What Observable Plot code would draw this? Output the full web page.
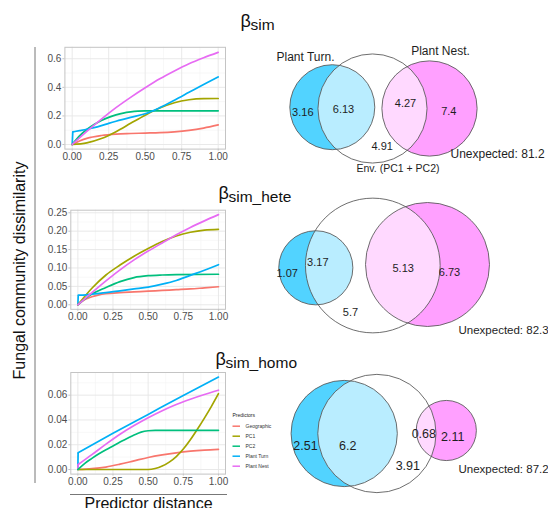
<!DOCTYPE html>
<html><head><meta charset="utf-8">
<script src="https://cdn.jsdelivr.net/npm/d3@7"></script>
<script src="https://cdn.jsdelivr.net/npm/@observablehq/plot@0.6"></script>
<style>
body{margin:0;background:#fff;}
#fig{position:relative;width:548px;height:508px;overflow:hidden;background:#fff;}
</style></head><body><div id="fig"></div>
<script>
// ---------- DATA ----------
const predictors = ["Geographic","PC1","PC2","Plant Turn","Plant Nest"];
const predictorColors = ["#F8766D","#A3A500","#00BF7D","#00B0F6","#E76BF3"];
const xTicks = [0, 0.25, 0.5, 0.75, 1];
const xMinor = [0.125, 0.375, 0.625, 0.875];

// beta_sim
const simGeo  = [[0,0],[0.05,0.025],[0.1,0.043],[0.2,0.063],[0.3,0.073],[0.4,0.077],[0.5,0.08],[0.6,0.083],[0.7,0.089],[0.8,0.099],[0.9,0.115],[1,0.137]];
const simPC1  = [[0,0],[0.1,0.012],[0.2,0.042],[0.3,0.09],[0.4,0.148],[0.5,0.205],[0.6,0.255],[0.7,0.292],[0.8,0.313],[0.9,0.321],[1,0.322]];
const simPC2  = [[0,0],[0.05,0.06],[0.1,0.105],[0.15,0.14],[0.2,0.168],[0.25,0.19],[0.3,0.207],[0.35,0.22],[0.4,0.228],[0.45,0.233],[0.5,0.235],[0.6,0.236],[1,0.236]];
const simTurn = [[0,0],[0.004,0.088],[0.05,0.097],[0.1,0.107],[0.15,0.118],[0.2,0.132],[0.25,0.148],[0.3,0.163],[0.4,0.19],[0.5,0.215],[0.6,0.258],[0.7,0.31],[0.8,0.365],[0.9,0.42],[1,0.473]];
const simNest = [[0,0],[0.1,0.092],[0.2,0.178],[0.3,0.258],[0.4,0.33],[0.5,0.397],[0.6,0.46],[0.7,0.515],[0.8,0.565],[0.9,0.607],[1,0.645]];
// beta_sim_hete
const heteGeo  = [[0,0],[0.05,0.014],[0.1,0.022],[0.15,0.027],[0.2,0.03],[0.3,0.033],[0.4,0.035],[0.5,0.037],[0.6,0.039],[0.7,0.041],[0.8,0.043],[0.9,0.046],[1,0.049]];
const hetePC1  = [[0,0],[0.1,0.045],[0.2,0.081],[0.3,0.108],[0.4,0.132],[0.5,0.153],[0.6,0.172],[0.7,0.187],[0.8,0.197],[0.9,0.203],[1,0.205]];
const hetePC2  = [[0,0],[0.05,0.016],[0.1,0.029],[0.2,0.047],[0.3,0.063],[0.4,0.074],[0.5,0.079],[0.6,0.081],[0.7,0.082],[1,0.083]];
const heteTurn = [[0,0],[0.003,0.026],[0.06,0.027],[0.1,0.029],[0.2,0.033],[0.3,0.038],[0.4,0.043],[0.5,0.048],[0.6,0.056],[0.7,0.066],[0.8,0.08],[0.9,0.094],[1,0.109]];
const heteNest = [[0,0],[0.1,0.033],[0.2,0.065],[0.3,0.095],[0.4,0.122],[0.5,0.146],[0.6,0.168],[0.7,0.19],[0.8,0.21],[0.9,0.228],[1,0.245]];
// beta_sim_homo
const homoGeo  = [[0,0],[0.1,0.0007],[0.2,0.002],[0.3,0.0043],[0.4,0.007],[0.5,0.0097],[0.6,0.0118],[0.7,0.0135],[0.8,0.0148],[0.9,0.0157],[1,0.0163]];
const homoPC1  = [[0,0],[0.25,0],[0.5,0],[0.55,0.0008],[0.6,0.0028],[0.65,0.006],[0.7,0.0105],[0.75,0.0165],[0.8,0.024],[0.85,0.0325],[0.9,0.0415],[0.95,0.051],[1,0.0612]];
const homoPC2  = [[0,0],[0.05,0.005],[0.1,0.009],[0.15,0.0127],[0.2,0.016],[0.25,0.019],[0.3,0.0222],[0.35,0.025],[0.4,0.0278],[0.45,0.0302],[0.5,0.0313],[0.55,0.0316],[1,0.0316]];
const homoTurn = [[0,0],[0.002,0.0135],[0.25,0.0292],[0.5,0.0445],[0.75,0.0598],[1,0.0746]];
const homoNest = [[0,0],[0.002,0.004],[0.1,0.012],[0.2,0.0205],[0.3,0.0285],[0.4,0.0355],[0.5,0.0418],[0.6,0.0475],[0.7,0.0525],[0.8,0.0567],[0.9,0.0605],[1,0.064]];

const simTicks  = [0, 0.2, 0.4, 0.6];
const heteTicks = [0, 0.05, 0.1, 0.15, 0.2, 0.25];
const homoTicks = [0, 0.02, 0.04, 0.06];

const titleSubs = ["sim", "sim_hete", "sim_homo"];
const vennSetNames = ["Plant Turn.", "Env. (PC1 + PC2)", "Plant Nest."];
// regions: Turn only, Turn∩Env, Env only, Env∩Nest, Nest only
const vennSim  = [3.16, 6.13, 4.91, 4.27, 7.4];
const vennHete = [1.07, 3.17, 5.7, 5.13, 6.73];
const vennHomo = [2.51, 6.2, 3.91, 0.68, 2.11];
const unexpected = [81.2, 82.3, 87.2];
const yTitle = "Fungal community dissimilarity";
const xTitle = "Predictor distance";
const legendTitle = "Predictors";

// ---------- LAYOUT ----------
const FONT = '"Liberation Sans", Arial, Helvetica, sans-serif';
const fig = document.getElementById("fig");
const baseStyle = {position:"absolute", left:"0px", background:"transparent", overflow:"visible", fontFamily: FONT};

function linePanel(series, cfg) {
  // a series whose first step is a near-vertical jump gets that step drawn straight
  const jumps = [], smooth = [];
  series.forEach((s, i) => {
    const p = predictors[i];
    let pts = s;
    if (s.length > 2 && s[1][0] - s[0][0] < 0.01) {
      jumps.push({p, x: s[0][0], y: s[0][1]}, {p, x: s[1][0], y: s[1][1]});
      pts = s.slice(1);
    }
    pts.forEach(([x, y]) => smooth.push({p, x, y}));
  });
  const minor = cfg.ticks.slice(0, -1).map((t, i) => (t + cfg.ticks[i + 1]) / 2).concat(cfg.extraMinor || []);
  return Plot.plot({
    width: 274, height: cfg.h,
    marginLeft: cfg.ml, marginRight: 49, marginTop: cfg.mt, marginBottom: cfg.mb,
    style: {...baseStyle, top: cfg.top + "px", fontSize: "10px"},
    x: {domain: [-0.05, 1.05]},
    y: {domain: cfg.yDomain},
    color: {domain: predictors, range: predictorColors},
    marks: [
      Plot.gridX(xMinor, {stroke: "#F3F3F3", strokeOpacity: 1, strokeWidth: 0.6}),
      Plot.gridY(minor, {stroke: "#F3F3F3", strokeOpacity: 1, strokeWidth: 0.6}),
      Plot.gridX(xTicks, {stroke: "#E6E6E6", strokeOpacity: 1, strokeWidth: 0.9}),
      Plot.gridY(cfg.ticks, {stroke: "#E6E6E6", strokeOpacity: 1, strokeWidth: 0.9}),
      Plot.line(jumps, {x: "x", y: "y", z: "p", stroke: "p", strokeWidth: 1.7, strokeLinecap: "butt"}),
      Plot.line(smooth, {x: "x", y: "y", z: "p", stroke: "p", strokeWidth: 1.7, curve: "monotone-x"}),
      Plot.frame({stroke: "#C4C4C4"}),
      Plot.axisX(xTicks, {tickSize: 2, tickPadding: 1.5, stroke: "#C4C4C4", fill: "#4D4D4D", tickFormat: d3.format(".2f"), label: null, fontSize: 10}),
      Plot.axisY(cfg.ticks, {tickSize: 2, tickPadding: 1.5, stroke: "#C4C4C4", fill: "#4D4D4D", tickFormat: d3.format(cfg.fmt), label: null, fontSize: 10})
    ]
  });
}

fig.append(linePanel([simGeo, simPC1, simPC2, simTurn, simNest],
  {top: 0, h: 170, ml: 64.4, mt: 46.8, mb: 21.4, yDomain: [-0.032, 0.68], ticks: simTicks, fmt: ".1f"}));
fig.append(linePanel([heteGeo, hetePC1, hetePC2, heteTurn, heteNest],
  {top: 170, h: 160, ml: 70.3, mt: 39.7, mb: 21.2, yDomain: [-0.01225, 0.257], ticks: heteTicks, fmt: ".2f"}));
fig.append(linePanel([homoGeo, homoPC1, homoPC2, homoTurn, homoNest],
  {top: 330, h: 170, ml: 70.3, mt: 42, mb: 26.4, yDomain: [-0.0037, 0.0783], ticks: homoTicks, fmt: ".2f", extraMinor: [0.07]}));

// Venn panels
const vennLayouts = [
  {k: 13.94, centers: [[331.8,106.7],[372,108],[429,108]],
   nums: [[302.3,111.7],[343,109.3],[381.7,146],[405,103.3],[448.3,111]], numSize: 11,
   unexp: [450,154], unexpSize: 12,
   names: [[305,56.7,12],[397.5,168.3,10.5],[440,51,12]]},
  {k: 18, centers: [[315.3,267.3],[372.3,265],[427,264]],
   nums: [[286.7,272.7],[317.3,262.3],[350,311.7],[402.7,267.7],[449,271.7]], numSize: 11,
   unexp: [458,330], unexpSize: 11.5, names: []},
  {k: 18, centers: [[343.7,433],[376.4,433],[445.8,430]],
   nums: [[305,445.7],[347.3,445.7],[407.3,465.7],[423.3,433.3],[452.3,436]], numSize: 12.5,
   unexp: [458,469.3], unexpSize: 11.5, names: []}
];
const vennFills = ["#52D3FF", "#FFFFFF", "#FFA0FF"];

function vennPanel(vals, unexp, L) {
  const [a, ab, e, en, n] = vals;
  const sizes = [a + ab, ab + e + en, en + n];
  const circles = sizes.map((v, i) => ({v, cx: L.centers[i][0], cy: L.centers[i][1], fill: vennFills[i]}));
  const nums = vals.map((v, i) => ({t: String(v), x: L.nums[i][0], y: L.nums[i][1]}));
  const names = L.names.map((p, i) => ({t: vennSetNames[i], x: p[0], y: p[1], s: p[2]}));
  return Plot.plot({
    width: 548, height: 508, margin: 0,
    style: {...baseStyle, top: "0px"},
    x: {type: "identity", axis: null}, y: {type: "identity", axis: null},
    r: {type: "sqrt", domain: [0, 1], range: [0, L.k]},
    color: {type: "identity"},
    marks: [
      Plot.dot([circles[0], circles[2]], {x: "cx", y: "cy", r: "v", fill: "fill", stroke: "none"}),
      Plot.dot([circles[1]], {x: "cx", y: "cy", r: "v", fill: "#FFFFFF", fillOpacity: 0.6, stroke: "none"}),
      Plot.dot(circles, {x: "cx", y: "cy", r: "v", fill: "none", stroke: "#555555", strokeWidth: 1, strokeOpacity: 0.85}),
      Plot.text(nums, {x: "x", y: "y", text: "t", fontSize: L.numSize, fill: "#1E1E1E"}),
      ...names.map(d => Plot.text([d], {x: "x", y: "y", text: "t", fontSize: d.s, fill: "#1E1E1E"})),
      Plot.text([{t: "Unexpected: " + unexp, x: L.unexp[0], y: L.unexp[1]}],
        {x: "x", y: "y", text: "t", fontSize: L.unexpSize, textAnchor: "start", fill: "#1E1E1E"})
    ]
  });
}
fig.append(vennPanel(vennSim, unexpected[0], vennLayouts[0]));
fig.append(vennPanel(vennHete, unexpected[1], vennLayouts[1]));
fig.append(vennPanel(vennHomo, unexpected[2], vennLayouts[2]));

// Overlay: titles, axis titles, legend, side rules
const titlePos = [[240, 26.5, 29], [218, 198, 201], [215, 364.5, 367.5]];
const titles = titleSubs.map((s, i) => ({s, x: titlePos[i][0], yb: titlePos[i][1], ys: titlePos[i][2]}));
const legendRows = predictors.map((p, i) => ({p, c: predictorColors[i], y: 425.7 + i * 10}));

fig.append(Plot.plot({
  width: 548, height: 508, margin: 0,
  style: {...baseStyle, top: "0px"},
  x: {type: "identity", axis: null}, y: {type: "identity", axis: null},
  color: {type: "identity"},
  marks: [
    Plot.ruleX([34.5], {y1: () => 47, y2: () => 483, stroke: "#777", strokeWidth: 1}),
    Plot.ruleY([494], {x1: () => 70, x2: () => 227, stroke: "#777", strokeWidth: 1}),
    Plot.text([yTitle], {x: () => 19, y: () => 270, text: d => d, rotate: -90, fontSize: 16, fill: "#111"}),
    Plot.text([xTitle], {x: () => 148, y: () => 503.5, text: d => d, fontSize: 16, fill: "#111"}),
    Plot.text(titles, {x: "x", y: "yb", text: () => "β", fontSize: 18, textAnchor: "start", lineAnchor: "bottom", fill: "#111"}),
    Plot.text(titles, {x: d => d.x + 10, y: "ys", text: "s", fontSize: 15.5, textAnchor: "start", lineAnchor: "bottom", fill: "#111"}),
    Plot.text([legendTitle], {x: () => 232, y: () => 415, text: d => d, fontSize: 5, textAnchor: "start", fill: "#222"}),
    Plot.ruleY(legendRows, {y: "y", x1: () => 232.5, x2: () => 240, stroke: "c", strokeWidth: 1.5}),
    Plot.text(legendRows, {x: () => 245, y: "y", text: "p", fontSize: 5, textAnchor: "start", fill: "#333"})
  ]
}));
</script></body></html>
